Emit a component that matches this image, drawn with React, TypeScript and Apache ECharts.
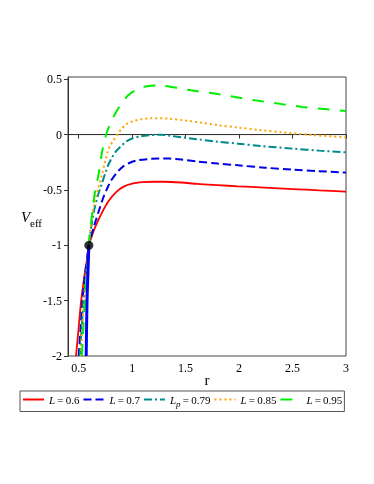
import React, { useEffect, useRef } from "react";
import * as echarts from "echarts";

const xTicks = [0.5, 1, 1.5, 2, 2.5, 3];
const seriesNames = ["L=0.6", "L=0.7", "Lp=0.79", "L=0.85", "L=0.95"];
const legendLabels = ["{i|L}{t|\u2009=\u20090.6}", "{i|L}{t|\u2009=\u20090.7}", "{i|L}{s|p}{t|\u2009=\u20090.79}", "{i|L}{t|\u2009=\u20090.85}", "{i|L}{t|\u2009=\u20090.95}"];

const red06 = [
  [0.475, -2], [0.5, -1.74], [0.523, -1.5], [0.55, -1.3], [0.575, -1.14], [0.595, -1.0],
  [0.615, -0.94], [0.64, -0.87], [0.68, -0.78], [0.72, -0.7], [0.78, -0.6], [0.85, -0.52],
  [0.92, -0.47], [1.0, -0.443], [1.1, -0.43], [1.2, -0.426], [1.3, -0.426], [1.46, -0.433],
  [1.61, -0.446], [1.8, -0.457], [1.99, -0.467], [2.24, -0.479], [2.5, -0.492], [2.75, -0.504], [3.0, -0.515],
];
const blue07 = [
  [0.5, -2], [0.52, -1.72], [0.535, -1.5], [0.555, -1.3], [0.575, -1.15], [0.595, -1],
  [0.608, -0.95], [0.633, -0.86], [0.665, -0.76], [0.695, -0.67], [0.73, -0.57], [0.765, -0.49],
  [0.8, -0.42], [0.86, -0.34], [0.92, -0.285], [0.985, -0.252], [1.05, -0.233], [1.14, -0.222],
  [1.25, -0.215], [1.35, -0.217], [1.46, -0.226], [1.61, -0.244], [1.8, -0.262], [1.99, -0.278],
  [2.24, -0.299], [2.5, -0.317], [2.75, -0.331], [3.0, -0.343],
];
const teal079 = [
  [0.51, -2], [0.53, -1.72], [0.545, -1.5], [0.565, -1.3], [0.58, -1.15], [0.595, -1],
  [0.61, -0.88], [0.63, -0.76], [0.65, -0.66], [0.68, -0.55], [0.714, -0.45], [0.752, -0.34],
  [0.777, -0.275], [0.81, -0.21], [0.85, -0.15], [0.89, -0.11], [0.94, -0.065], [1.0, -0.035],
  [1.08, -0.015], [1.17, -0.005], [1.27, -0.002], [1.35, -0.01], [1.46, -0.024], [1.6, -0.042],
  [1.8, -0.064], [1.99, -0.082], [2.2, -0.103], [2.5, -0.127], [2.75, -0.145], [3.0, -0.16],
];
const orange085 = [
  [0.52, -2], [0.535, -1.72], [0.552, -1.5], [0.57, -1.3], [0.583, -1.15], [0.595, -1],
  [0.607, -0.88], [0.625, -0.74], [0.645, -0.63], [0.665, -0.55], [0.686, -0.47], [0.72, -0.35],
  [0.745, -0.25], [0.77, -0.16], [0.79, -0.11], [0.82, -0.06], [0.853, -0.01], [0.9, 0.05],
  [0.947, 0.095], [1.0, 0.118], [1.08, 0.138], [1.17, 0.147], [1.25, 0.148], [1.35, 0.143],
  [1.49, 0.128], [1.65, 0.107], [1.8, 0.085], [1.99, 0.064], [2.2, 0.04], [2.4, 0.021],
  [2.7, -0.005], [3.0, -0.024],
];
const green095 = [
  [0.53, -2], [0.545, -1.72], [0.558, -1.5], [0.573, -1.3], [0.585, -1.15], [0.595, -1],
  [0.607, -0.87], [0.633, -0.66], [0.655, -0.5], [0.686, -0.36], [0.718, -0.16], [0.757, 0],
  [0.8, 0.11], [0.853, 0.209], [0.9, 0.28], [0.963, 0.355], [1.05, 0.41], [1.14, 0.436],
  [1.25, 0.443], [1.4, 0.425], [1.55, 0.4], [1.77, 0.37], [1.99, 0.335], [2.18, 0.305],
  [2.4, 0.275], [2.59, 0.25], [2.8, 0.23], [3.0, 0.212],
];
const solidBlue = [[0.57, -2], [0.578, -1.5], [0.587, -1.24], [0.595, -1]];
const zeroLine = [[0.4, 0], [3, 0]];
const dotPoint = [[0.595, -1]];

const SERIF = "Liberation Serif";

export default function App() {
  const ref = useRef<HTMLDivElement>(null);
  useEffect(() => {
    if (!ref.current) return;
    const chart = echarts.init(ref.current, null, { renderer: "svg" });
    const common = { type: "line", showSymbol: false, symbol: "none", smooth: 0.3, z: 3 };
    const styles = [
      { color: "#ff0000", type: "solid", width: 1.8 },
      { color: "#0000e6", type: [8, 4], width: 2 },
      { color: "#008b8b", type: [8, 3, 2, 3], width: 2 },
      { color: "#ffa500", type: [2, 3], width: 2 },
      { color: "#00ee00", type: [12, 10], width: 2 },
    ];
    const datas = [red06, blue07, teal079, orange085, green095];
    const lineSeries = datas.map((d, i) => ({
      ...common,
      name: seriesNames[i],
      data: d,
      itemStyle: { color: styles[i].color },
      lineStyle: { color: styles[i].color, type: styles[i].type, width: styles[i].width },
    }));
    const labelMap: Record<string, string> = {};
    seriesNames.forEach((n, i) => (labelMap[n] = legendLabels[i]));
    chart.setOption({
      animation: false,
      grid: { left: 68, right: 28, top: 77, bottom: 128, show: true, borderColor: "#444", borderWidth: 1 },
      xAxis: {
        type: "value", min: 0.4, max: 3,
        axisLine: { show: true, lineStyle: { color: "#333", width: 1 } },
        axisTick: { show: true, inside: false, length: 4, customValues: xTicks, lineStyle: { color: "#333" } },
        axisLabel: { customValues: xTicks, color: "#000", fontFamily: SERIF, fontSize: 12, margin: 6 },
        splitLine: { show: false },
        name: "r", nameLocation: "middle", nameGap: 16, nameMoveOverlap: false,
        nameTextStyle: { color: "#000", fontFamily: SERIF, fontSize: 15 },
      },
      yAxis: {
        type: "value", min: -2, max: 0.52, interval: 0.5,
        axisLine: { show: true, lineStyle: { color: "#333", width: 1 } },
        axisTick: { show: true, inside: false, length: 4, lineStyle: { color: "#333" } },
        axisLabel: { color: "#000", fontFamily: SERIF, fontSize: 12, margin: 6 },
        splitLine: { show: false },
      },
      legend: {
        left: 20, top: 391,
        orient: "horizontal",
        itemWidth: 21, itemHeight: 10, itemGap: 3,
        padding: [3, 2, 3, 2],
        borderColor: "#555", borderWidth: 1,
        itemStyle: { opacity: 0 },
        data: seriesNames,
        formatter: (n: string) => labelMap[n] || n,
        textStyle: {
          fontFamily: SERIF, fontSize: 11, color: "#000",
          rich: {
            i: { fontFamily: SERIF, fontStyle: "italic", fontSize: 11, color: "#000" },
            t: { fontFamily: SERIF, fontSize: 11, color: "#000" },
            s: { fontFamily: SERIF, fontStyle: "italic", fontSize: 9, color: "#000", padding: [9, 0, 0, 0] },
          },
        },
      },
      graphic: [
        { type: "text", left: 21, top: 209, style: { text: "V", font: `italic 15px "${SERIF}"`, fill: "#000" } },
        { type: "text", left: 30, top: 217, style: { text: "eff", font: `11px "${SERIF}"`, fill: "#000" } },
      ],
      series: [
        { type: "line", data: zeroLine, showSymbol: false, symbol: "none", silent: true, lineStyle: { color: "#333", width: 1 }, z: 1 },
        ...lineSeries,
        { type: "line", data: solidBlue, showSymbol: false, symbol: "none", smooth: 0.3, lineStyle: { color: "#0000ff", width: 3 }, z: 4 },
        { type: "scatter", data: dotPoint, symbolSize: 9, itemStyle: { color: "#000" }, z: 5 },
      ],
    });
    return () => chart.dispose();
  }, []);
  return <div ref={ref} style={{ position: "fixed", left: 0, top: 0, width: 374, height: 484 }} />;
}
